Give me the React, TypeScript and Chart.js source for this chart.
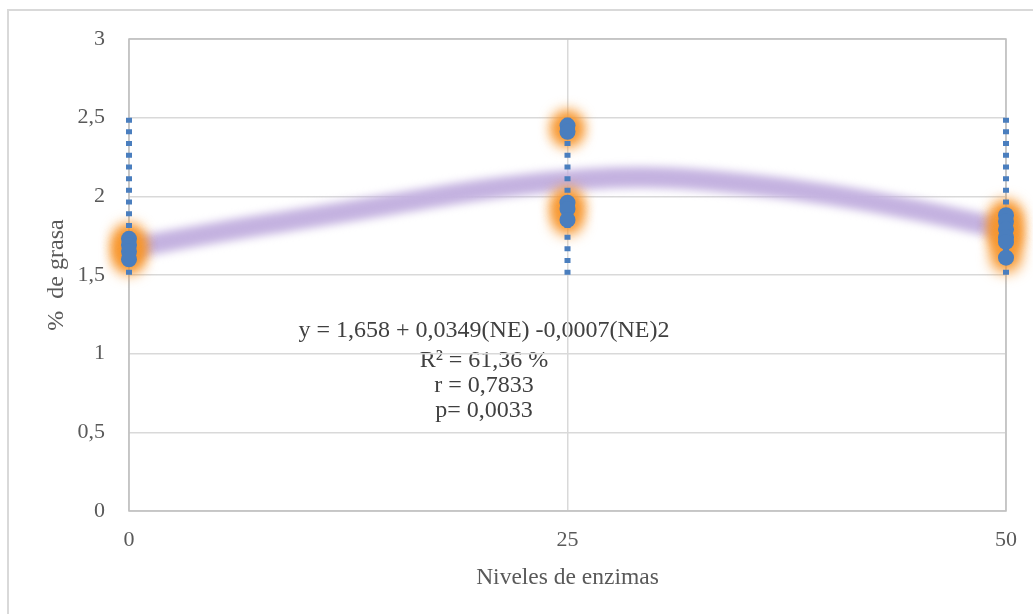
import React, { useEffect, useRef } from 'react';
import { Chart, registerables } from 'chart.js';

Chart.register(...registerables);

const xTickValues = [0, 25, 50];
const xTickLabels = ['0', '25', '50'];
const yTickValues = [0, 0.5, 1, 1.5, 2, 2.5, 3];
const yTickLabels = ['0', '0,5', '1', '1,5', '2', '2,5', '3'];

const fatAt0 = [1.73, 1.69, 1.65, 1.6];
const fatAt25 = [2.45, 2.41, 1.96, 1.92, 1.85];
const fatAt50 = [1.88, 1.84, 1.79, 1.74, 1.71, 1.61];

const rangeLow = [1.5, 1.5, 1.5];
const rangeHigh = [2.5, 2.5, 2.5];

const trendX = [0, 5, 10, 15, 20, 25, 30, 35, 40, 45, 50];
const trendY = [1.67, 1.77, 1.86, 1.95, 2.04, 2.1, 2.12, 2.08, 2.01, 1.91, 1.79];

const equationLines = [
  'y = 1,658 + 0,0349(NE) -0,0007(NE)2',
  'R² = 61,36 %',
  'r = 0,7833',
  'p= 0,0033',
];

const xTitle = 'Niveles de enzimas';
const yTitle = '%  de grasa';

const SERIF = '"Liberation Serif", "Times New Roman", "DejaVu Serif", serif';
const BLUE = 'rgb(74,126,190)';
const ORANGE = 'rgb(247,150,45)';
const LAVENDER = 'rgb(196,178,224)';

export default function App() {
  const ref = useRef<HTMLCanvasElement | null>(null);

  useEffect(() => {
    const canvas = ref.current;
    if (!canvas) return;

    const points: { x: number; y: number }[] = [];
    fatAt0.forEach((v) => points.push({ x: xTickValues[0], y: v }));
    fatAt25.forEach((v) => points.push({ x: xTickValues[1], y: v }));
    fatAt50.forEach((v) => points.push({ x: xTickValues[2], y: v }));

    const rangeSets = xTickValues.map((xv, i) => ({
      type: 'line' as const,
      data: [
        { x: xv, y: rangeHigh[i] },
        { x: xv, y: rangeLow[i] },
      ],
      borderColor: BLUE,
      borderWidth: 6,
      borderDash: [5, 6.7],
      borderCapStyle: 'butt' as const,
      pointRadius: 0,
      showLine: true,
      clip: false as any,
    }));

    const framePlugin = {
      id: 'framePlugin',
      beforeDraw(chart: any) {
        const ctx = chart.ctx;
        ctx.save();
        ctx.strokeStyle = '#d9d9d9';
        ctx.lineWidth = 2;
        ctx.strokeRect(8, 10, 1100, 700);
        ctx.fillStyle = '#404040';
        ctx.font = `24px ${SERIF}`;
        ctx.textAlign = 'center';
        ctx.textBaseline = 'middle';
        const ys = [331, 361, 386, 411];
        equationLines.forEach((t, i) => ctx.fillText(t, 484, ys[i]));
        ctx.restore();
      },
      beforeDatasetsDraw(chart: any) {
        const { ctx, chartArea } = chart;
        ctx.save();
        ctx.strokeStyle = '#bfbfbf';
        ctx.lineWidth = 1.5;
        ctx.strokeRect(chartArea.left, chartArea.top, chartArea.right - chartArea.left, chartArea.bottom - chartArea.top);
        ctx.restore();
      },
      beforeDatasetDraw(chart: any, args: any) {
        const ds: any = chart.data.datasets[args.index];
        chart.ctx.save();
        if (ds.blurPx) chart.ctx.filter = `blur(${ds.blurPx}px)`;
      },
      afterDatasetDraw(chart: any) {
        chart.ctx.restore();
      },
    };

    const chart = new Chart(canvas, {
      type: 'scatter',
      data: {
        datasets: [
          {
            data: points,
            backgroundColor: BLUE,
            borderColor: BLUE,
            borderWidth: 0,
            pointRadius: 8,
            clip: false as any,
          } as any,
          ...rangeSets,
          {
            data: points,
            backgroundColor: ORANGE,
            borderColor: ORANGE,
            borderWidth: 0,
            pointRadius: 15,
            blurPx: 7,
            clip: false as any,
          } as any,
          {
            type: 'line',
            data: trendX.map((x, i) => ({ x, y: trendY[i] })),
            borderColor: LAVENDER,
            borderWidth: 21,
            pointRadius: 0,
            tension: 0.4,
            showLine: true,
            blurPx: 4,
            clip: false as any,
          } as any,
        ],
      },
      options: {
        responsive: false,
        animation: false,
        layout: { padding: { top: 39, right: 27, left: 0, bottom: 0 } },
        plugins: {
          legend: { display: false },
          tooltip: { enabled: false },
        },
        scales: {
          x: {
            type: 'linear',
            min: 0,
            max: 50,
            afterBuildTicks(scale: any) {
              scale.ticks = xTickValues.map((v) => ({ value: v }));
            },
            afterFit(scale: any) {
              scale.height = 103;
            },
            ticks: {
              padding: 16,
              color: '#595959',
              font: { family: SERIF, size: 22 },
              callback: (v: any) => {
                const i = xTickValues.indexOf(Number(v));
                return i >= 0 ? xTickLabels[i] : '';
              },
            },
            grid: { color: '#d9d9d9', lineWidth: 1.5, drawTicks: false },
            border: { display: false },
            title: {
              display: true,
              text: xTitle,
              color: '#595959',
              font: { family: SERIF, size: 23.5 },
              padding: { top: 0, bottom: 22 },
            },
          },
          y: {
            type: 'linear',
            min: 0,
            max: 3,
            afterBuildTicks(scale: any) {
              scale.ticks = yTickValues.map((v) => ({ value: v }));
            },
            afterFit(scale: any) {
              scale.width = 129;
            },
            ticks: {
              padding: 24,
              color: '#595959',
              font: { family: SERIF, size: 22 },
              callback: (v: any) => {
                const i = yTickValues.indexOf(Number(v));
                return i >= 0 ? yTickLabels[i] : '';
              },
            },
            grid: { color: '#d9d9d9', lineWidth: 1.5, drawTicks: false },
            border: { display: false },
            title: {
              display: true,
              text: yTitle,
              color: '#595959',
              font: { family: SERIF, size: 24 },
              padding: { top: 42, bottom: 0 },
            },
          },
        },
      },
      plugins: [framePlugin],
    });

    return () => chart.destroy();
  }, []);

  return (
    <div style={{ position: 'fixed', left: 0, top: 0, width: 1033, height: 614, overflow: 'hidden', background: '#fff' }}>
      <canvas ref={ref} width={1033} height={614} style={{ display: 'block', width: 1033, height: 614 }} />
    </div>
  );
}
